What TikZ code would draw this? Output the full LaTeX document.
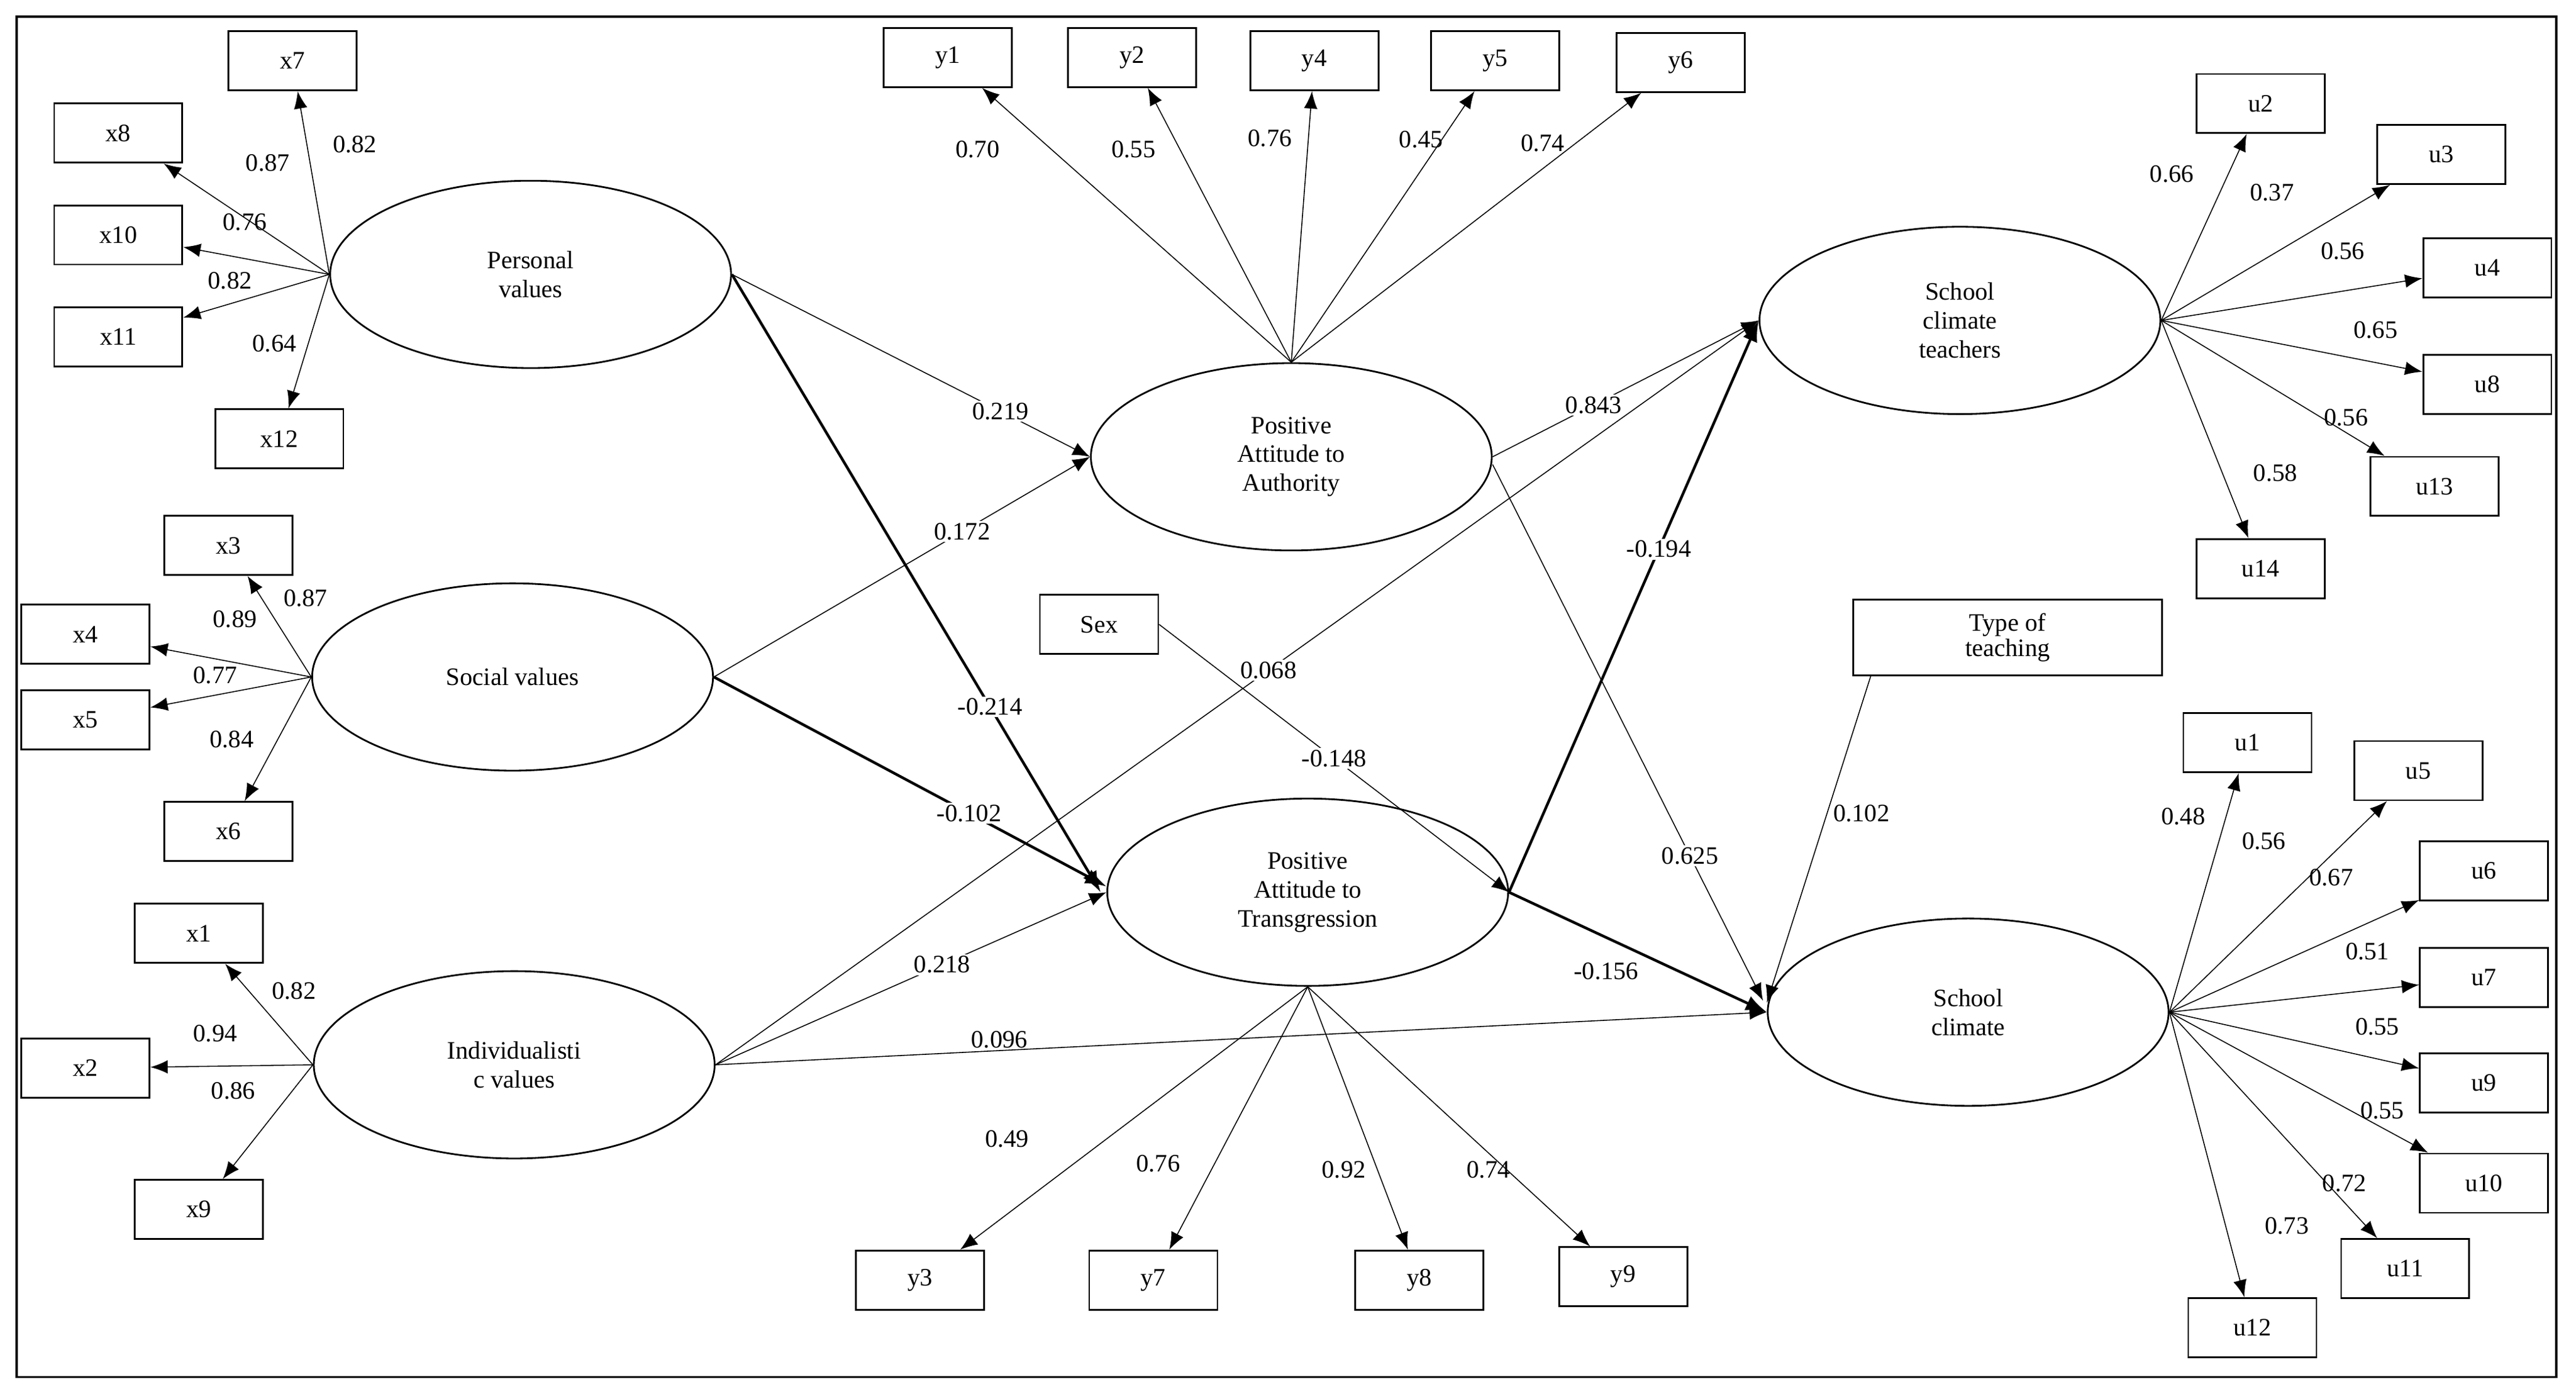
\documentclass[tikz,border=0pt]{standalone}
\usepackage{fontspec}
\setmainfont{Liberation Serif}
\usetikzlibrary{shapes.geometric,arrows.meta}
\begin{document}
\begin{tikzpicture}[x=0.03cm,y=-0.03cm,
 font=\fontsize{13pt}{15pt}\selectfont,
 lat/.style={draw,ellipse,line width=0.9pt,minimum width=7.32cm,minimum height=3.42cm,inner sep=0pt,align=center},
 box/.style={draw,line width=0.9pt,minimum width=2.34cm,minimum height=1.08cm,inner sep=1pt},
 ind/.style={-{Latex[length=9pt,width=7pt]},line width=0.5pt},
 th/.style={-{Latex[length=9pt,width=7pt]},line width=0.5pt},
 tk/.style={-{Latex[length=11pt,width=8pt]},line width=1.4pt},
 lb/.style={inner sep=1pt}]
\useasboundingbox (0,0) rectangle (1568,848);
\draw[line width=1.2pt] (10,10) rectangle (1556,838);
% latent
\node[lat] (pv) at (323,167) {Personal\\values};
\node[lat] (sv) at (312,412) {Social values};
\node[lat] (iv) at (313,648) {Individualisti\\c values};
\node[lat] (paa) at (786,278) {Positive\\Attitude to\\Authority};
\node[lat] (pat) at (796,543) {Positive\\Attitude to\\Transgression};
\node[lat] (sct) at (1193,195) {School\\climate\\teachers};
\node[lat] (sc) at (1198,616) {School\\climate};
% boxes
\foreach \n/\x/\y in {x7/178/37,x8/72/81,x10/72/143,x11/72/205,x12/170/267,
 x3/139/332,x4/52/386,x5/52/438,x6/139/506,x1/121/568,x2/52/650,x9/121/736,
 y1/577/35,y2/689/35,y4/800/37,y5/910/37,y6/1023/38,
 u2/1376/63,u3/1486/94,u4/1514/163,u8/1514/234,u13/1482/296,u14/1376/346,
 u1/1368/452,u5/1472/469,u6/1512/530,u7/1512/595,u9/1512/659,u10/1512/720,u11/1464/772,u12/1371/808,
 y3/560/779,y7/702/779,y8/864/779,y9/988/777}
 \node[box] (\n) at (\x,\y) {\n};
\node[box,minimum width=2.16cm] (sex) at (669,380) {Sex};
\node[box,minimum width=5.64cm,minimum height=1.38cm,align=center,font=\fontsize{13pt}{11pt}\selectfont] (tot) at (1222,388) {Type of\\teaching};
% indicators
\foreach \b in {x7,x8,x10,x11,x12} \draw[ind] (pv.west) -- (\b);
\foreach \b in {x3,x4,x5,x6} \draw[ind] (sv.west) -- (\b);
\foreach \b in {x1,x2,x9} \draw[ind] (iv.west) -- (\b);
\foreach \b in {y1,y2,y4,y5,y6} \draw[ind] (paa.north) -- (\b);
\foreach \b in {y3,y7,y8,y9} \draw[ind] (pat.south) -- (\b);
\foreach \b in {u2,u3,u4,u8,u13,u14} \draw[ind] (sct.east) -- (\b);
\foreach \b in {u1,u5,u6,u7,u9,u10,u11,u12} \draw[ind] (sc.east) -- (\b);
% indicator labels
\foreach \t/\x/\y in {0.82/216/88,0.87/163/99,0.76/149/135,0.82/140/171,0.64/167/209,
 0.87/186/364,0.89/143/377,0.77/131/411,0.84/141/450,
 0.82/179/603,0.94/131/629,0.86/142/664,
 0.70/595/91,0.55/690/91,0.76/773/84,0.45/865/85,0.74/939/87,
 0.66/1322/106,0.37/1383/117,0.56/1426/153,0.65/1446/201,0.56/1428/254,0.58/1385/288,
 0.48/1329/497,0.56/1378/512,0.67/1419/534,0.51/1441/579,0.55/1447/625,0.55/1450/676,0.72/1427/720,0.73/1392/746,
 0.49/613/693,0.76/705/708,0.92/818/712,0.74/906/712}
 \node[lb] at (\x,\y) {\t};
% structural
\draw[th] (pv.east) -- node[lb,pos=0.75,fill=white] {0.219} (paa.west);
\draw[th] (sv.east) -- node[lb,pos=0.66,fill=white] {0.172} (paa.west);
\draw[tk] (pv.east) -- node[lb,pos=0.7,fill=white] {-0.214} ([xshift=-3pt]pat.west);
\draw[tk] (sv.east) -- node[lb,pos=0.65,fill=white] {-0.102} ([yshift=3pt]pat.west);
\draw[th] (iv.east) -- node[lb,pos=0.58,fill=white] {0.218} (pat.west);
\draw[th] (iv.east) -- node[lb,pos=0.53,fill=white] {0.068} (sct.west);
\draw[th] (iv.east) -- node[lb,pos=0.27,above] {0.096} (sc.west);
\draw[th] (paa.east) -- node[lb,pos=0.38,fill=white] {0.843} (sct.west);
\draw[th] ([yshift=-4pt]paa.east) -- node[lb,pos=0.73,fill=white] {0.625} ([xshift=-2pt,yshift=6pt]sc.west);
\draw[tk] (pat.east) -- node[lb,pos=0.6,fill=white] {-0.194} (sct.west);
\draw[tk] (pat.east) -- node[lb,pos=0.53,below left=2pt] {-0.156} (sc.west);
\draw[th] (sex.east) -- node[lb,pos=0.5,fill=white] {-0.148} (pat.east);
\draw[th] ([xshift=-2.5cm]tot.south) -- node[lb,pos=0.42,right=2pt] {0.102} ([yshift=5pt]sc.west);
\end{tikzpicture}
\end{document}
